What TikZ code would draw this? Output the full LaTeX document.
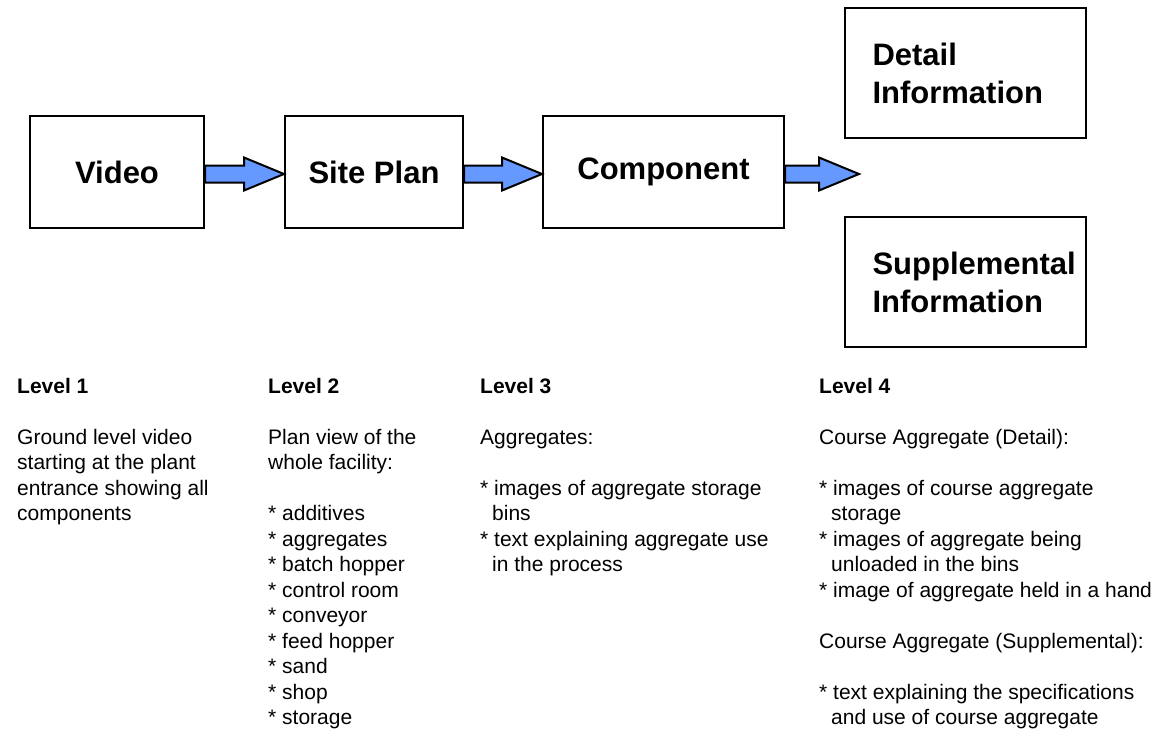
\documentclass[tikz,border=0pt]{standalone}
\usepackage{fontspec}
\setmainfont{Liberation Sans}
\usetikzlibrary{positioning,calc}
\definecolor{arrowblue}{HTML}{6699FF}

% block arrow from one node to another
\newcommand{\blockarrow}[2]{%
  \draw[barrow] let \p1=(#1), \p2=(#2) in
    (\x1,\y1+6.5pt) -- (\x2-40pt,\y1+6.5pt) -- (\x2-40pt,\y1+14.5pt) -- (\x2,\y1-2pt)
    -- (\x2-40pt,\y1-18.5pt) -- (\x2-40pt,\y1-10.5pt) -- (\x1,\y1-10.5pt) -- cycle;}

\begin{document}
\begin{tikzpicture}[x=1pt,y=-1pt,
  stage/.style={draw,line width=2pt,minimum height=112pt,align=left,inner sep=0pt,font=\bfseries\fontsize{31}{38}\selectfont},
  infobox/.style={stage,text width=185pt,inner xsep=28pt,minimum height=130pt},
  levelcol/.style={anchor=north west,inner sep=0pt,align=left,font=\fontsize{21}{25.5}\selectfont},
  barrow/.style={draw=black,line width=2pt,fill=arrowblue,line join=miter}]
\useasboundingbox (0,0) rectangle (1162,732);

\node[stage,minimum width=174pt] (video) at (117,172) {Video};
\node[stage,minimum width=178pt,right=79pt of video] (site) {Site Plan};
\node[stage,minimum width=241pt,right=78pt of site] (component) {Component};
\node[infobox] (detail) at (965,73) {Detail\\Information};
\node[infobox] (supp) at (965,282) {Supplemental\\Information};
\coordinate (fork) at (859,172);

\blockarrow{video.east}{site.west}
\blockarrow{site.east}{component.west}
\blockarrow{component.east}{fork}

\node[levelcol] (lev1) at (17,378) {\textbf{Level 1}\\[25.5pt]
  Ground level video\\ starting at the plant\\ entrance showing all\\ components};
\node[levelcol] (lev2) at (268,378) {\textbf{Level 2}\\[25.5pt]
  Plan view of the\\ whole facility:\\[25.5pt]
  * additives\\ * aggregates\\ * batch hopper\\ * control room\\ * conveyor\\
  * feed hopper\\ * sand\\ * shop\\ * storage};
\node[levelcol] (lev3) at (480,378) {\textbf{Level 3}\\[25.5pt]
  Aggregates:\\[25.5pt]
  * images of aggregate storage\\ \hspace*{12pt}bins\\
  * text explaining aggregate use\\ \hspace*{12pt}in the process};
\node[levelcol] (lev4) at (819,378) {\textbf{Level 4}\\[25.5pt]
  Course Aggregate (Detail):\\[25.5pt]
  * images of course aggregate\\ \hspace*{12pt}storage\\
  * images of aggregate being\\ \hspace*{12pt}unloaded in the bins\\
  * image of aggregate held in a hand\\[25.5pt]
  Course Aggregate (Supplemental):\\[25.5pt]
  * text explaining the specifications\\ \hspace*{12pt}and use of course aggregate};
\end{tikzpicture}
\end{document}
